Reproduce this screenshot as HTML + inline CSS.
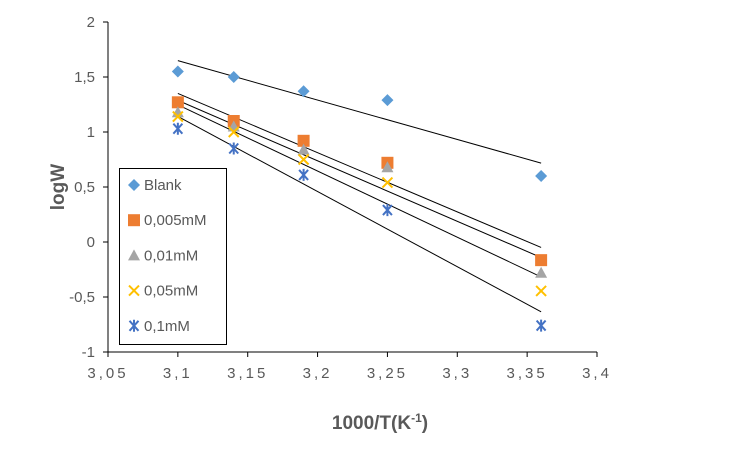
<!DOCTYPE html>
<html><head><meta charset="utf-8"><style>
body{margin:0;background:#fff}
svg text{font-family:"Liberation Sans",sans-serif}
</style></head><body>
<svg id="c" width="750" height="450" xmlns="http://www.w3.org/2000/svg"></svg>
<script>
const xVals=[3.1,3.14,3.19,3.25,3.36];
const seriesNames=["Blank","0,005mM","0,01mM","0,05mM","0,1mM"];
const blank=[1.55,1.50,1.37,1.29,0.60];
const c005=[1.27,1.10,0.92,0.72,-0.165];
const c01=[1.18,1.05,0.84,0.68,-0.28];
const c05=[1.14,1.00,0.75,0.54,-0.445];
const c1=[1.03,0.85,0.61,0.29,-0.76];
const xTicks=["3,05","3,1","3,15","3,2","3,25","3,3","3,35","3,4"];
const xTickVals=[3.05,3.1,3.15,3.2,3.25,3.3,3.35,3.4];
const yTicks=["-1","-0,5","0","0,5","1","1,5","2"];
const yTickVals=[-1,-0.5,0,0.5,1,1.5,2];
const series=[blank,c005,c01,c05,c1];
const colors=["#5b9bd5","#ed7d31","#a5a5a5","#ffc000","#4472c4"];
const X=v=>108+(v-3.05)*(489/0.35);
const Y=v=>352-(v+1)*110;
const svg=document.getElementById('c');const NS="http://www.w3.org/2000/svg";
function el(t,a,p){const e=document.createElementNS(NS,t);for(const k in a)e.setAttribute(k,a[k]);(p||svg).appendChild(e);return e;}
let e;
e=el('line',{x1:X(3.05),y1:Y(-1),x2:X(3.4),y2:Y(-1),stroke:'#000'});


e=el('line',{x1:X(3.05),y1:Y(-1),x2:X(3.05),y2:Y(2),stroke:'#000'});


xTickVals.forEach((v,i)=>{
 el('line',{x1:X(v),y1:352,x2:X(v),y2:357,stroke:'#000'});
 e=el('text',{x:X(v),y:378,'text-anchor':'middle','font-size':15,fill:'#595959','letter-spacing':'3'});e.textContent=xTicks[i];
 
 
});
yTickVals.forEach((v,i)=>{
 el('line',{x1:103,y1:Y(v),x2:108,y2:Y(v),stroke:'#000'});
 e=el('text',{x:95,y:Y(v)+5,'text-anchor':'end','font-size':15,fill:'#595959'});e.textContent=yTicks[i];
 
 
});
e=el('text',{x:380,y:429,'text-anchor':'middle','font-size':19,'font-weight':'bold',fill:'#595959'});
e.innerHTML='1000/T(K<tspan font-size="12" dy="-7">-1</tspan><tspan dy="7">)</tspan>';


e=el('text',{x:0,y:0,transform:'translate(64,187) rotate(-90)','text-anchor':'middle','font-size':19,'font-weight':'bold',fill:'#595959'});e.textContent='logW';


function marker(k,x,y,p){
 const col=colors[k];
 if(k===0)return el('polygon',{points:`${x},${y-6} ${x+6},${y} ${x},${y+6} ${x-6},${y}`,fill:col},p);
 if(k===1)return el('rect',{x:x-6,y:y-6,width:12,height:12,fill:col},p);
 if(k===2)return el('polygon',{points:`${x},${y-6} ${x+6},${y+5} ${x-6},${y+5}`,fill:col},p);
 if(k===3)return el('path',{d:`M${x-5} ${y-5}L${x+5} ${y+5}M${x+5} ${y-5}L${x-5} ${y+5}`,stroke:col,'stroke-width':2},p);
 return el('path',{d:`M${x-4.5} ${y-5}L${x+4.5} ${y+5}M${x+4.5} ${y-5}L${x-4.5} ${y+5}M${x} ${y-6}L${x} ${y+6}`,stroke:col,'stroke-width':2},p);
}
series.forEach((s,k)=>{
 const n=xVals.length,mx=xVals.reduce((a,b)=>a+b)/n,my=s.reduce((a,b)=>a+b)/n;
 let sxy=0,sxx=0;xVals.forEach((x,i)=>{sxy+=(x-mx)*(s[i]-my);sxx+=(x-mx)**2});
 const b=sxy/sxx,a=my-b*mx;
 e=el('line',{x1:X(3.1),y1:Y(a+b*3.1),x2:X(3.36),y2:Y(a+b*3.36),stroke:'#000','stroke-width':1});
 
 
});
series.forEach((s,k)=>{
 s.forEach((v,i)=>{
  e=marker(k,X(xVals[i]),Y(v));
  
  
 });
});
const lg=el('g',{});


el('rect',{x:119.5,y:168.5,width:107,height:176,fill:'#fff',stroke:'#000'},lg);
seriesNames.forEach((nm,k)=>{
 const y=185+k*35.2;
 marker(k,134,y,lg);
 e=el('text',{x:144,y:y+5,'font-size':15,fill:'#595959'},lg);e.textContent=nm;
 
 
});
</script>
</body></html>
